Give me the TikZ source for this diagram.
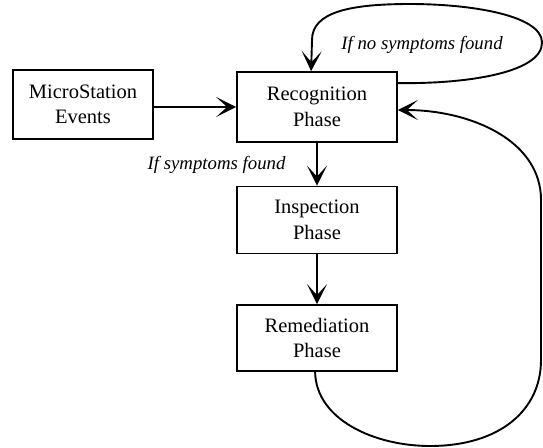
\documentclass[tikz,border=0pt]{standalone}
\usepackage{fontspec}
\setmainfont{Liberation Serif}
\usetikzlibrary{arrows.meta,calc}
\begin{document}
\begin{tikzpicture}[x=1pt,y=-1pt,
  phasebox/.style={draw,line width=1.8pt,minimum width=160pt,minimum height=68pt,align=center,inner sep=0pt,font=\fontsize{20.5}{25.5}\selectfont},
  conn/.style={line width=1.9pt,-{Stealth[length=20pt,width=20pt,inset=11pt]}},
  lbl/.style={font=\fontsize{18.8}{22}\selectfont\itshape}]
\useasboundingbox (0,0) rectangle (543,447);
\node[phasebox,minimum width=140pt,minimum height=69pt] (micro) at (83,104.5) {MicroStation\\Events};
\node[phasebox,minimum height=70pt] (recog) at (317,107) {Recognition\\Phase};
\node[phasebox,minimum height=67pt] (insp) at (317,220) {Inspection\\Phase};
\node[phasebox,minimum height=66pt] (remed) at (317,338) {Remediation\\Phase};
\draw[conn] (micro.east |- recog.west) -- (recog.west);
\draw[conn] (recog.south) -- (insp.north);
\draw[conn] (insp.south) -- (remed.north);
\node[lbl,anchor=east] (ls) at (289,165) {If symptoms found};
\node[lbl] (lns) at (422,45) {If no symptoms found};
\coordinate (t1) at ($(recog.north east)+(0,12)$);
\coordinate (t2) at ($(recog.north west)+(75,0)$);
\draw[conn] (t1) .. controls (470,84) and (543,72) .. (542,42)
  .. controls (541,15) and (470,4) .. (410,4)
  .. controls (350,4) and (312,12) .. (312,40) -- (t2);
\coordinate (b1) at ($(remed.south west)+(79,0)$);
\coordinate (b2) at ($(recog.east)+(0,3)$);
\draw[conn] (b1) .. controls (316,420) and (375,446) .. (430,446)
  .. controls (500,446) and (541,410) .. (541,360) -- (541,200)
  .. controls (541,140) and (470,110) .. (b2);
\end{tikzpicture}
\end{document}
